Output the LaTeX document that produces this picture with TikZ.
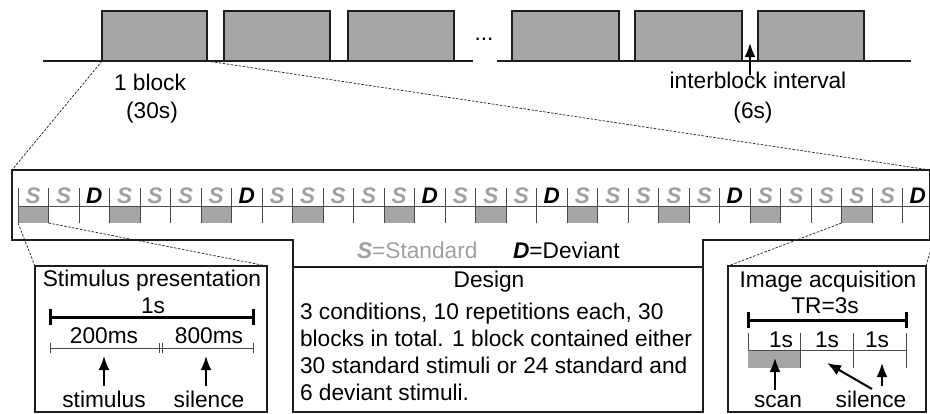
\documentclass[tikz,border=0pt]{standalone}
\usepackage{fontspec}
\setmainfont{Liberation Sans}
\usetikzlibrary{arrows.meta}

\definecolor{blockgray}{HTML}{A6A6A6}
\definecolor{lettergray}{HTML}{A0A0A0}
\definecolor{ink}{HTML}{1E1E1E}
\definecolor{tickink}{HTML}{4A4A4A}

\begin{document}
\begin{tikzpicture}[x=1pt,y=-1pt,
  font=\fontsize{22.7}{27}\selectfont,
  txt/.style={inner sep=0pt, outer sep=0pt, anchor=base},
  txtleft/.style={txt, anchor=base west},
  blk/.style={draw=ink, line width=2pt, fill=blockgray, inner sep=0pt, outer sep=0pt,
              anchor=south west, minimum height=50pt},
  scanbox/.style={fill=blockgray, inner sep=0pt, outer sep=0pt, anchor=north west,
                  minimum width=30.5pt, minimum height=17pt},
  panel/.style={draw=ink, line width=2pt, inner sep=0pt, outer sep=0pt, anchor=north west},
  frameline/.style={draw=ink, line width=2pt},
  zoomline/.style={draw=ink, line width=0.7pt, dash pattern=on 2.5pt off 1.5pt},
  pointer/.style={-{Latex[length=14pt,width=11pt]}, line width=2pt, draw=black},
  tick/.style={draw=tickink, line width=1pt},
  span/.style={draw=black, line width=3pt},
  stdletter/.style={inner sep=0pt, anchor=base, text=lettergray,
                    font=\fontsize{22.5}{26}\selectfont\bfseries\itshape},
  devletter/.style={stdletter, text=black}
]
\useasboundingbox (0,0) rectangle (930,413);

% ---------- block timeline ----------
\draw[ink, line width=2pt] (43,61) -- (473,61);
\draw[ink, line width=2pt] (497,61) -- (911,61);
\node[blk, minimum width=105pt] (b1) at (102,61) {};
\node[blk, minimum width=106pt] (b2) at (224,61) {};
\node[blk, minimum width=106pt] (b3) at (348,61) {};
\node[blk, minimum width=107pt] (b4) at (512,61) {};
\node[blk, minimum width=107pt] (b5) at (635,61) {};
\node[blk, minimum width=106pt] (b6) at (758,61) {};
\node[txt] (dots) at (484,40) {...};

\node[txt] (blocklbl) at (150,90) {1 block};
\node[txt] (blocklen) at (152,118) {(30s)};
\node[txt] (ibi) at (758,88) {interblock interval};
\node[txt] (ibilen) at (753,118) {(6s)};
\coordinate (gap) at (750,43);
\coordinate (gaptail) at (750,75);
\draw[pointer] (gaptail) -- (gap);

% ---------- stimulus strip frame ----------
\coordinate (fTL) at (12,170);
\coordinate (fTR) at (930,170);
\draw[frameline] (fTL) -- (fTR) -- (930,240) -- (703,240) -- (703,412)
                 -- (293,412) -- (293,240) -- (12,240) -- cycle;
\draw[frameline] (293,267) -- (703,267);

\draw[zoomline] (b1.south west) -- (fTL);
\draw[zoomline] (b1.south east) -- (fTR);

% scan periods under every third stimulus
\foreach \k in {0,...,9}
  \node[scanbox] (g\k) at ({18+91.5*\k},206) {};
% stimulus boundaries
\draw[tick] (18,206) -- (933,206);
\foreach \i in {0,...,29}
  \draw[tick] ({18+30.5*\i},188) -- ({18+30.5*\i},223);
% stimulus letters
\foreach \i in {0,1,3,4,5,6,8,9,10,11,12,14,15,16,18,19,20,21,22,24,25,26,27,28}
  \node[stdletter] (l\i) at ({33.25+30.5*\i},203) {S};
\foreach \i in {2,7,13,17,23,29}
  \node[devletter] (l\i) at ({33.25+30.5*\i},203) {D};

% legend
\node[txtleft, text=lettergray] (stdkey) at (357,258) {\textbf{\textit{S}}=Standard};
\node[txtleft] (devkey) at (513,258) {\textbf{\textit{D}}=Deviant};

% ---------- stimulus presentation panel ----------
\node[panel, minimum width=232pt, minimum height=146pt] (stim) at (35,266) {};
\draw[zoomline] (g0.south west) -- (stim.north west);
\draw[zoomline] (g0.south east) -- (stim.north east);

\node[txt] (stimtitle) at (152,286) {Stimulus presentation};
\node[txt] (stimdur) at (153,313) {1s};
\draw[span] (50,317) -- (253,317);
\draw[span] (50,309) -- (50,325);
\draw[span] (253,309) -- (253,325);
\node[txt] (ms200) at (104,343) {200ms};
\node[txt] (ms800) at (209,343) {800ms};
\draw[tick] (50,348) -- (253,348);
\foreach \x in {50,159,162,253}
  \draw[tick] (\x,343) -- (\x,353);
\node[txt] (stimlbl) at (104,407) {stimulus};
\node[txt] (sillbl) at (209,407) {silence};
\coordinate (stimtip) at (104,356);
\coordinate (siltip) at (206,356);
\draw[pointer, shorten <=5pt] (stimlbl.north) -- (stimtip);
\draw[pointer, shorten <=5pt] (sillbl.north -| siltip) -- (siltip);

% ---------- design panel ----------
\node[txt] (designtitle) at (489,287) {Design};
\node[txtleft] (d1) at (300,319) {3 conditions, 10 repetitions each, 30};
\node[txtleft] (d2) at (300,346) {blocks in total. 1 block contained either};
\node[txtleft] (d3) at (300,373) {30 standard stimuli or 24 standard and};
\node[txtleft] (d4) at (300,400) {6 deviant stimuli.};

% ---------- image acquisition panel ----------
\node[panel, minimum width=198pt, minimum height=146pt] (ia) at (728,266) {};
\coordinate (offedge) at (931,249);
\draw[zoomline] (g9.south west) -- (ia.north west);
\draw[zoomline] (ia.north east) -- (offedge);

\node[txt] (iatitle) at (828,287) {Image acquisition};
\node[txt] (tr) at (825,313) {TR=3s};
\draw[span] (748,320) -- (906,320);
\draw[span] (748,312) -- (748,328);
\draw[span] (906,312) -- (906,328);
\node[txt] (s1) at (781,347) {1s};
\node[txt] (s2) at (827,347) {1s};
\node[txt] (s3) at (877,347) {1s};
\fill[blockgray] (748,350) rectangle (800,368);
\draw[tick] (748,350) -- (906,350);
\draw[tick] (748,333) -- (748,350);
\foreach \x in {800,853,906}
  \draw[tick] (\x,333) -- (\x,368);
\node[txt] (scanlbl) at (778,407) {scan};
\node[txt] (ialbl) at (871,407) {silence};
\coordinate (scantip) at (775,358);
\coordinate (gaptip1) at (827,363);
\coordinate (gaptip2) at (882,363);
\draw[pointer, shorten <=5pt] (scanlbl.north -| scantip) -- (scantip);
\draw[pointer] (872,389) -- (gaptip1);
\draw[pointer, shorten <=5pt] (ialbl.north -| gaptip2) -- (gaptip2);
\end{tikzpicture}
\end{document}
